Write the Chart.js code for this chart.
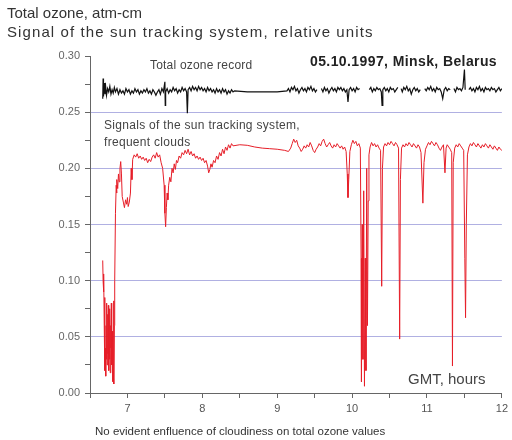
<!DOCTYPE html>
<html>
<head>
<meta charset="utf-8">
<script src="https://cdn.jsdelivr.net/npm/chart.js@4.4.1/dist/chart.umd.min.js"></script>
<style>
  html, body { margin: 0; padding: 0; background: #fff; }
  #wrap { position: relative; width: 512px; height: 440px; font-family: "Liberation Sans", Arial, sans-serif; color: #333; }
  #wrap canvas { position: absolute; left: 0; top: 0; }
  .lbl { position: absolute; white-space: nowrap; line-height: 1; }
</style>
</head>
<body>
<div id="wrap">
  <canvas id="ozoneChart" width="512" height="440"></canvas>
  <div class="lbl" style="left:7px;top:5px;font-size:15px;">Total ozone, atm-cm</div>
  <div class="lbl" style="left:7px;top:24px;font-size:15px;letter-spacing:1.1px;">Signal of the sun tracking system, relative units</div>
  <div class="lbl" style="left:310px;top:54px;font-size:14px;letter-spacing:0.4px;font-weight:bold;color:#222;">05.10.1997, Minsk, Belarus</div>
  <div class="lbl" style="left:150px;top:59px;font-size:12px;letter-spacing:0.2px;color:#444;">Total ozone record</div>
  <div class="lbl" style="left:104px;top:119px;font-size:12px;letter-spacing:0.3px;color:#444;">Signals of the sun tracking system,</div>
  <div class="lbl" style="left:104px;top:136px;font-size:12px;letter-spacing:0.3px;color:#444;">frequent clouds</div>
  <div class="lbl" style="left:408px;top:371px;font-size:15px;color:#444;">GMT, hours</div>
  <div class="lbl" style="left:95px;top:426px;font-size:11.5px;color:#333;">No evident enfluence of cloudiness on total ozone values</div>
</div>
<script>
// total ozone record, GMT hours / atm-cm (null = no record)
var ozoneHours = [
  6.670, 6.675, 6.680, 6.690, 6.700, 6.710, 6.720, 6.735, 6.750, 6.765, 6.780, 6.795, 6.810, 6.825, 6.840, 6.860,
  6.880, 6.900, 6.920, 6.940, 6.960, 6.980, 7.000, 7.020, 7.040, 7.060, 7.080, 7.100, 7.120, 7.140, 7.160, 7.180,
  7.200, 7.220, 7.240, 7.260, 7.280, 7.300, 7.320, 7.340, 7.360, 7.380, 7.400, 7.420, 7.440, 7.460, 7.480, 7.500,
  7.505, 7.510, 7.530, 7.550, 7.570, 7.590, 7.610, 7.630, 7.650, 7.670, 7.690, 7.710, 7.730, 7.750, 7.770, 7.790,
  7.800, 7.810, 7.830, 7.850, 7.870, 7.890, 7.910, 7.930, 7.950, 7.970, 7.990, 8.010, 8.030, 8.050, 8.070, 8.090,
  8.110, 8.130, 8.150, 8.170, 8.190, 8.210, 8.230, 8.250, 8.270, 8.290, 8.310, 8.330, 8.350, 8.370, 8.390, 8.410,
  8.430, 8.600, 8.800, 9.000, 9.130,
  9.150, 9.170, 9.190, 9.210, 9.230, 9.250, 9.270, 9.290, 9.310, 9.330, 9.350, 9.370, 9.390, 9.410, 9.430, 9.450,
  9.470, 9.490, 9.510, 9.530, 9.560, 9.590, 9.610, 9.630, 9.650, 9.670, 9.690, 9.710, 9.730, 9.750, 9.770, 9.790,
  9.810, 9.830, 9.850, 9.870, 9.890, 9.910, 9.930, 9.945, 9.960, 9.980, 10.000, 10.020, 10.040, 10.060, 10.080, 10.100,
  10.115, 10.230, 10.250, 10.270, 10.290, 10.310, 10.330, 10.350, 10.370, 10.390, 10.400, 10.410, 10.430, 10.450, 10.470, 10.490,
  10.510, 10.530, 10.550, 10.570, 10.590, 10.610, 10.625, 10.655, 10.670, 10.690, 10.710, 10.730, 10.750, 10.770, 10.790, 10.810,
  10.830, 10.850, 10.870, 10.890, 10.910, 10.930, 10.970, 10.990, 11.010, 11.030, 11.050, 11.070, 11.090, 11.110, 11.130, 11.150,
  11.170, 11.190, 11.210, 11.230, 11.250, 11.270, 11.290, 11.310, 11.330, 11.360, 11.380, 11.400, 11.420, 11.440, 11.460, 11.480,
  11.500, 11.510, 11.530, 11.560, 11.580, 11.600, 11.620, 11.640, 11.660, 11.680, 11.700, 11.720, 11.740, 11.760, 11.780, 11.800,
  11.820, 11.840, 11.860, 11.880, 11.900, 11.920, 11.940, 11.960, 11.980, 12.000
];
var ozoneValues = [
  0.262, 0.280, 0.264, 0.276, 0.266, 0.272, 0.265, 0.271, 0.268, 0.273, 0.266, 0.270, 0.267, 0.272, 0.268, 0.271,
  0.266, 0.270, 0.267, 0.269, 0.266, 0.271, 0.268, 0.270, 0.266, 0.269, 0.267, 0.271, 0.268, 0.270, 0.266, 0.269,
  0.267, 0.270, 0.268, 0.271, 0.267, 0.269, 0.266, 0.270, 0.268, 0.265, 0.268, 0.270, 0.266, 0.271, 0.268, 0.277,
  0.256, 0.268, 0.271, 0.267, 0.270, 0.268, 0.272, 0.269, 0.271, 0.267, 0.270, 0.268, 0.272, 0.269, 0.271, 0.268,
  0.249, 0.270, 0.272, 0.269, 0.273, 0.270, 0.272, 0.269, 0.273, 0.270, 0.272, 0.269, 0.271, 0.268, 0.272, 0.269,
  0.271, 0.268, 0.270, 0.267, 0.271, 0.268, 0.270, 0.267, 0.271, 0.268, 0.270, 0.266, 0.269, 0.267, 0.270, 0.268,
  0.269, 0.268, 0.268, 0.268, 0.269,
  0.271, 0.268, 0.272, 0.270, 0.273, 0.269, 0.271, 0.267, 0.270, 0.272, 0.269, 0.271, 0.268, 0.272, 0.270, 0.273,
  0.269, 0.271, 0.268, 0.270, null, 0.271, 0.268, 0.272, 0.269, 0.271, 0.267, 0.270, 0.272, 0.269, 0.271, 0.268,
  0.272, 0.270, 0.272, 0.269, 0.271, 0.268, 0.270, 0.259, 0.270, 0.272, 0.269, 0.271, 0.268, 0.272, 0.270, 0.271,
  null, 0.270, 0.272, 0.268, 0.271, 0.269, 0.272, 0.270, 0.271, 0.268, 0.256, 0.270, 0.272, 0.269, 0.271, 0.268,
  0.272, 0.270, 0.271, 0.268, 0.270, 0.272, null, 0.271, 0.268, 0.272, 0.270, 0.273, 0.269, 0.271, 0.266, 0.270,
  0.272, 0.269, 0.271, 0.268, 0.270, null, 0.271, 0.269, 0.272, 0.270, 0.273, 0.269, 0.271, 0.268, 0.272, 0.270,
  0.271, 0.268, 0.262, 0.270, 0.272, 0.269, 0.271, 0.270, null, 0.271, 0.268, 0.272, 0.270, 0.271, 0.269, 0.272,
  0.288, 0.270, null, 0.270, 0.272, 0.269, 0.271, 0.268, 0.272, 0.270, 0.273, 0.269, 0.271, 0.268, 0.272, 0.270,
  0.271, 0.269, 0.272, 0.270, 0.271, 0.268, 0.270, 0.272, 0.269, 0.271
];

// sun tracking system signal, relative units
var signalHours = [
  6.670, 6.675, 6.680, 6.685, 6.690, 6.695, 6.700, 6.705, 6.710, 6.715, 6.720, 6.725, 6.730, 6.735, 6.740, 6.745,
  6.750, 6.755, 6.760, 6.765, 6.770, 6.775, 6.780, 6.785, 6.790, 6.795, 6.800, 6.805, 6.810, 6.815, 6.820, 6.825,
  6.830, 6.840, 6.850, 6.855, 6.860, 6.870, 6.880, 6.890, 6.900, 6.910, 6.920, 6.930, 6.945, 6.960, 6.975, 6.990,
  7.000, 7.010, 7.025, 7.040, 7.050, 7.060, 7.070, 7.090, 7.110, 7.130, 7.150, 7.170, 7.190, 7.210, 7.230, 7.250,
  7.270, 7.290, 7.310, 7.330, 7.350, 7.370, 7.390, 7.410, 7.430, 7.450, 7.470, 7.490, 7.500, 7.510, 7.520, 7.530,
  7.540, 7.550, 7.565, 7.580, 7.595, 7.610, 7.625, 7.640, 7.655, 7.670, 7.690, 7.710, 7.730, 7.750, 7.770, 7.790,
  7.810, 7.830, 7.850, 7.870, 7.890, 7.910, 7.930, 7.950, 7.970, 7.990, 8.010, 8.030, 8.050, 8.070, 8.085, 8.100,
  8.115, 8.130, 8.150, 8.170, 8.190, 8.210, 8.230, 8.250, 8.270, 8.290, 8.310, 8.330, 8.350, 8.370, 8.390, 8.410,
  8.500, 8.600, 8.700, 8.800, 8.900, 9.000, 9.100, 9.150,
  9.180, 9.200, 9.220, 9.240, 9.260, 9.280, 9.300, 9.320, 9.340, 9.360, 9.380, 9.400, 9.420, 9.440, 9.460, 9.480,
  9.500, 9.520, 9.540, 9.560, 9.580, 9.600, 9.620, 9.640, 9.660, 9.680, 9.700, 9.720, 9.740, 9.760, 9.780, 9.800,
  9.820, 9.840, 9.860, 9.880, 9.900, 9.920, 9.935, 9.945, 9.955, 9.970, 9.990, 10.010, 10.030, 10.050, 10.070, 10.090,
  10.110, 10.120, 10.125, 10.135, 10.145, 10.155, 10.165, 10.175, 10.185, 10.195, 10.205, 10.215, 10.225, 10.240, 10.260, 10.280,
  10.300, 10.320, 10.340, 10.360, 10.380, 10.395, 10.405, 10.420, 10.440, 10.460, 10.480, 10.500, 10.520, 10.540, 10.560, 10.580,
  10.600, 10.620, 10.635, 10.645, 10.660, 10.680, 10.700, 10.720, 10.740, 10.760, 10.780, 10.800, 10.820, 10.840, 10.860, 10.880,
  10.900, 10.920, 10.945, 10.960, 10.980, 11.000, 11.020, 11.040, 11.060, 11.080, 11.100, 11.120, 11.140, 11.160, 11.180, 11.200,
  11.220, 11.240, 11.255, 11.270, 11.290, 11.310, 11.330, 11.340, 11.350, 11.370, 11.390, 11.410, 11.430, 11.450, 11.470, 11.490,
  11.505, 11.515, 11.525, 11.540, 11.560, 11.580, 11.600, 11.620, 11.640, 11.660, 11.680, 11.700, 11.720, 11.740, 11.760, 11.780,
  11.800, 11.820, 11.840, 11.860, 11.880, 11.900, 11.920, 11.940, 11.960, 11.980, 12.000
];
var signalValues = [
  0.118, 0.100, 0.090, 0.106, 0.060, 0.085, 0.020, 0.040, 0.015, 0.060, 0.030, 0.080, 0.025, 0.070, 0.035, 0.078,
  0.020, 0.065, 0.030, 0.075, 0.018, 0.060, 0.040, 0.080, 0.025, 0.055, 0.010, 0.045, 0.020, 0.082, 0.008, 0.060,
  0.100, 0.160, 0.185, 0.178, 0.190, 0.182, 0.195, 0.188, 0.200, 0.206, 0.195, 0.175, 0.170, 0.165, 0.172, 0.168,
  0.174, 0.166, 0.170, 0.178, 0.200, 0.190, 0.208, 0.212, 0.210, 0.213, 0.209, 0.211, 0.208, 0.210, 0.207, 0.209,
  0.205, 0.208, 0.206, 0.210, 0.212, 0.209, 0.214, 0.210, 0.212, 0.205, 0.200, 0.185, 0.160, 0.148, 0.165, 0.178,
  0.172, 0.185, 0.192, 0.188, 0.200, 0.196, 0.204, 0.199, 0.207, 0.205, 0.211, 0.209, 0.214, 0.212, 0.216, 0.213,
  0.217, 0.212, 0.215, 0.211, 0.213, 0.209, 0.211, 0.208, 0.210, 0.207, 0.209, 0.205, 0.207, 0.202, 0.196, 0.199,
  0.204, 0.201, 0.207, 0.205, 0.211, 0.208, 0.214, 0.211, 0.217, 0.213, 0.219, 0.216, 0.221, 0.218, 0.222, 0.220,
  0.221, 0.2205, 0.219, 0.218, 0.2175, 0.217, 0.216, 0.215,
  0.218, 0.222, 0.226, 0.223, 0.225, 0.220, 0.218, 0.215, 0.217, 0.220, 0.218, 0.221, 0.219, 0.223, 0.220, 0.216,
  0.214, 0.217, 0.219, 0.222, 0.220, 0.224, 0.226, 0.222, 0.219, 0.221, 0.223, 0.220, 0.218, 0.221, 0.219, 0.222,
  0.220, 0.218, 0.220, 0.217, 0.219, 0.215, 0.195, 0.174, 0.190, 0.215, 0.221, 0.225, 0.222, 0.224, 0.220, 0.222,
  0.218, 0.120, 0.010, 0.150, 0.030, 0.180, 0.006, 0.120, 0.020, 0.200, 0.060, 0.171, 0.212, 0.219, 0.223, 0.220,
  0.222, 0.219, 0.221, 0.218, 0.216, 0.095, 0.200, 0.219, 0.222, 0.220, 0.223, 0.221, 0.224, 0.222, 0.220, 0.223,
  0.221, 0.218, 0.048, 0.190, 0.218, 0.221, 0.219, 0.222, 0.220, 0.223, 0.221, 0.219, 0.222, 0.220, 0.218, 0.221,
  0.219, 0.214, 0.169, 0.205, 0.217, 0.220, 0.223, 0.221, 0.224, 0.222, 0.220, 0.223, 0.221, 0.218, 0.216, 0.219,
  0.221, 0.196, 0.218, 0.221, 0.219, 0.217, 0.214, 0.024, 0.205, 0.218, 0.221, 0.219, 0.222, 0.220, 0.218, 0.216,
  0.120, 0.067, 0.150, 0.212, 0.219, 0.222, 0.220, 0.223, 0.221, 0.219, 0.222, 0.220, 0.218, 0.221, 0.219, 0.222,
  0.220, 0.218, 0.221, 0.219, 0.217, 0.220, 0.218, 0.216, 0.219, 0.217, 0.216
];

function toPoints(xs, ys) {
  return xs.map(function (x, i) { return { x: x, y: ys[i] }; });
}

var gridBlue = 'rgb(176, 176, 226)';
var axisGrey = '#666';

var ctx = document.getElementById('ozoneChart').getContext('2d');
var chart = new Chart(ctx, {
  type: 'line',
  data: {
    datasets: [{
      label: 'Total ozone',
      data: toPoints(ozoneHours, ozoneValues),
      borderColor: '#111',
      borderWidth: 1.2,
      pointRadius: 0,
      spanGaps: false
    }, {
      label: 'Sun tracking signal',
      data: toPoints(signalHours, signalValues),
      borderColor: 'rgb(230, 30, 40)',
      borderWidth: 1,
      pointRadius: 0,
      spanGaps: false
    }]
  },
  options: {
    responsive: false,
    animation: false,
    layout: { padding: { top: 56, right: 5, left: 0, bottom: 0 } },
    plugins: {
      legend: { display: false },
      tooltip: { enabled: false }
    },
    scales: {
      x: {
        type: 'linear',
        min: 6.5,
        max: 12,
        afterFit: function (scale) { scale.height = 47; },
        border: { color: axisGrey },
        grid: { drawOnChartArea: false, tickLength: 5, tickColor: axisGrey },
        ticks: {
          stepSize: 0.5,
          autoSkip: false,
          maxRotation: 0,
          padding: 4,
          color: '#555',
          font: { family: 'Liberation Sans', size: 11 },
          callback: function (v) { return Number.isInteger(v) ? String(v) : ''; }
        }
      },
      y: {
        min: 0,
        max: 0.30,
        afterFit: function (scale) { scale.width = 90; },
        border: { color: axisGrey },
        grid: {
          tickLength: 5,
          tickColor: axisGrey,
          color: function (c) {
            var v = Math.round(c.tick.value * 1000);
            return (v % 50 === 0 && v > 0 && v < 300) ? gridBlue : 'rgba(0,0,0,0)';
          }
        },
        ticks: {
          stepSize: 0.025,
          autoSkip: false,
          padding: 5,
          color: '#666',
          font: { family: 'Liberation Sans', size: 11 },
          callback: function (v) {
            return Math.round(v * 1000) % 50 === 0 ? v.toFixed(2) : '';
          }
        }
      }
    }
  }
});
</script>
</body>
</html>
